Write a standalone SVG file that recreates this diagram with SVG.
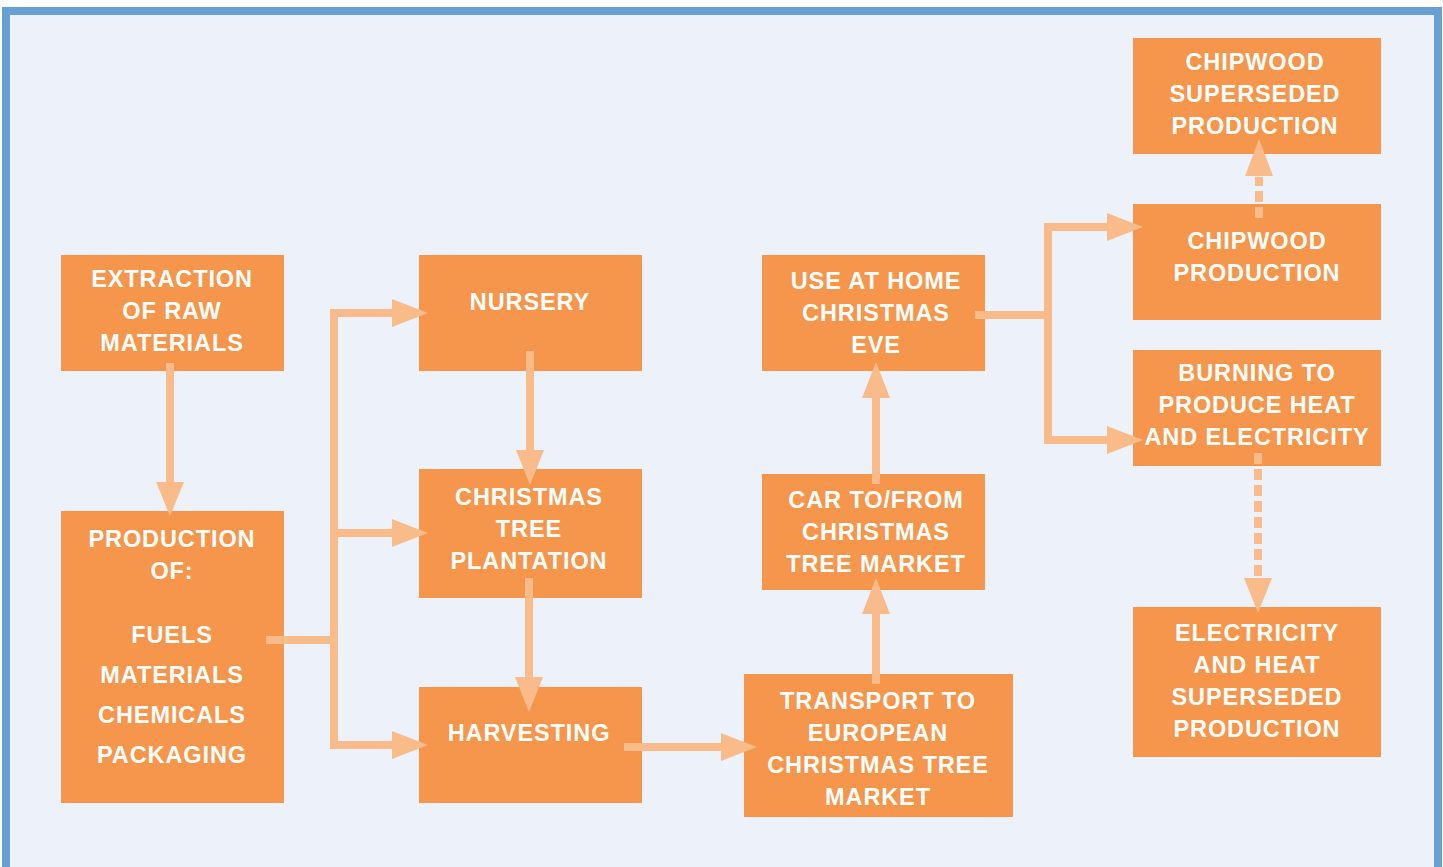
<svg xmlns="http://www.w3.org/2000/svg" width="1443" height="867" viewBox="0 0 1443 867">
<defs>
<style>
.box{fill:#F5964C}
.t{font-family:"Liberation Sans",Arial,sans-serif;font-weight:bold;font-size:23.5px;fill:#FFFFFF;text-anchor:middle;letter-spacing:0.9px}
.ln{stroke:#F9BB8A;stroke-width:8;fill:none}
.ds{stroke:#F9BB8A;stroke-width:8;fill:none;stroke-dasharray:11 5}
.hd{fill:#F9BB8A}
</style>
</defs>
<rect x="6" y="11" width="1432" height="870" fill="#EDF2FA" stroke="#68A0D6" stroke-width="8"/>
<g id="n-extraction"><rect class="box" x="61" y="255" width="223" height="116"/>
<text class="t" x="172" y="287">EXTRACTION</text><text class="t" x="172" y="319">OF RAW</text><text class="t" x="172" y="351">MATERIALS</text></g>
<g id="n-production"><rect class="box" x="61" y="511" width="223" height="292"/>
<text class="t" x="172" y="547">PRODUCTION</text><text class="t" x="172" y="579">OF:</text><text class="t" x="172" y="643">FUELS</text><text class="t" x="172" y="683">MATERIALS</text><text class="t" x="172" y="723">CHEMICALS</text><text class="t" x="172" y="763">PACKAGING</text></g>
<g id="n-nursery"><rect class="box" x="419" y="255" width="223" height="116"/>
<text class="t" x="530" y="310">NURSERY</text></g>
<g id="n-plantation"><rect class="box" x="419" y="469" width="223" height="129"/>
<text class="t" x="529" y="505">CHRISTMAS</text><text class="t" x="529" y="537">TREE</text><text class="t" x="529" y="569">PLANTATION</text></g>
<g id="n-harvesting"><rect class="box" x="419" y="687" width="223" height="116"/>
<text class="t" x="529" y="741">HARVESTING</text></g>
<g id="n-home"><rect class="box" x="762" y="255" width="223" height="116"/>
<text class="t" x="876" y="289">USE AT HOME</text><text class="t" x="876" y="321">CHRISTMAS</text><text class="t" x="876" y="353">EVE</text></g>
<g id="n-car"><rect class="box" x="762" y="474" width="223" height="116"/>
<text class="t" x="876" y="508">CAR TO/FROM</text><text class="t" x="876" y="540">CHRISTMAS</text><text class="t" x="876" y="572">TREE MARKET</text></g>
<g id="n-transport"><rect class="box" x="744" y="674" width="269" height="143"/>
<text class="t" x="878" y="709">TRANSPORT TO</text><text class="t" x="878" y="741">EUROPEAN</text><text class="t" x="878" y="773">CHRISTMAS TREE</text><text class="t" x="878" y="805">MARKET</text></g>
<g id="n-chipsup"><rect class="box" x="1133" y="38" width="248" height="116"/>
<text class="t" x="1255" y="70">CHIPWOOD</text><text class="t" x="1255" y="102">SUPERSEDED</text><text class="t" x="1255" y="134">PRODUCTION</text></g>
<g id="n-chip"><rect class="box" x="1133" y="204" width="248" height="116"/>
<text class="t" x="1257" y="249">CHIPWOOD</text><text class="t" x="1257" y="281">PRODUCTION</text></g>
<g id="n-burn"><rect class="box" x="1133" y="350" width="248" height="116"/>
<text class="t" x="1257" y="381">BURNING TO</text><text class="t" x="1257" y="413">PRODUCE HEAT</text><text class="t" x="1257" y="445">AND ELECTRICITY</text></g>
<g id="n-elec"><rect class="box" x="1133" y="607" width="248" height="150"/>
<text class="t" x="1257" y="641">ELECTRICITY</text><text class="t" x="1257" y="673">AND HEAT</text><text class="t" x="1257" y="705">SUPERSEDED</text><text class="t" x="1257" y="737">PRODUCTION</text></g>
<g id="connectors">
<path class="ln" d="M170 363V484"/><polygon class="hd" points="156,482 184,482 170,516"/>
<path class="ln" d="M266 640H334M396 313H334V745H396M334 533H396"/>
<polygon class="hd" points="392,299 392,327 428,313"/>
<polygon class="hd" points="392,519 392,547 428,533"/>
<polygon class="hd" points="392,731 392,759 428,745"/>
<path class="ln" d="M530 351V452"/><polygon class="hd" points="516,450 544,450 530,485"/>
<path class="ln" d="M529 578V679"/><polygon class="hd" points="515,677 543,677 529,712"/>
<path class="ln" d="M624 747H725"/><polygon class="hd" points="721,733 721,761 757,747"/>
<path class="ln" d="M876 684V612"/><polygon class="hd" points="862,614 890,614 876,578"/>
<path class="ln" d="M876 484V396"/><polygon class="hd" points="862,398 890,398 876,362"/>
<path class="ln" d="M975 315H1048M1110 227H1048V440H1110"/>
<polygon class="hd" points="1107,213 1107,241 1143,227"/>
<polygon class="hd" points="1107,426 1107,454 1143,440"/>
<path class="ds" d="M1259 218V177"/><polygon class="hd" points="1245,176 1273,176 1259,139"/>
<path class="ds" d="M1258 453V578"/><polygon class="hd" points="1244,578 1272,578 1258,613"/>
</g>
</svg>
